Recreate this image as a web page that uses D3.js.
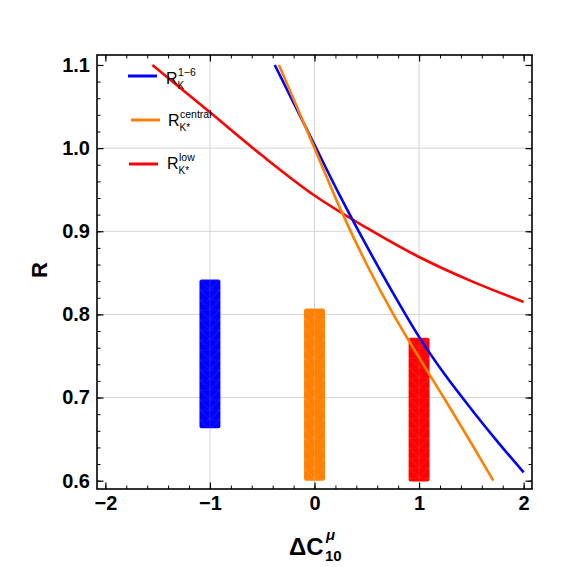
<!DOCTYPE html>
<html lang="en">
<head>
<meta charset="UTF-8">
<title>R vs Delta C10</title>
<script src="https://d3js.org/d3.v7.min.js"></script>
<style>
  body { margin: 0; background: #fff; }
  svg { font-family: "Liberation Sans", Arial, sans-serif; }
  .tick-lbl text { font-weight: bold; font-size: 20px; fill: #000; }
  .grid line { stroke: #d4d4d4; stroke-width: 1; }
</style>
</head>
<body>
<svg id="chart" width="563" height="567"></svg>
<script>
// curves
const blueX   = [-0.38, 0, 0.25, 0.5, 0.75, 1.0, 1.25, 1.5, 1.75, 2.0];
const blueY   = [1.10, 1.004, 0.941, 0.882, 0.826, 0.773, 0.727, 0.686, 0.647, 0.610];
const orangeX = [-0.34, 0, 0.25, 0.5, 0.75, 1.0, 1.25, 1.5, 1.71];
const orangeY = [1.10, 1.0, 0.926, 0.860, 0.801, 0.748, 0.697, 0.645, 0.600];
const redX    = [-1.55, -1.0, -0.5, 0, 0.5, 1.0, 1.5, 2.0];
const redY    = [1.10, 1.043, 0.991, 0.943, 0.904, 0.869, 0.840, 0.815];

// vertical bands: centre, low, high
const bandX    = [-1, 0, 1];
const bandLow  = [0.663, 0.600, 0.599];
const bandHigh = [0.842, 0.807, 0.772];
const bandColors = ["#0000ff", "#ff8000", "#ff0000"];

const xTicks = [-2, -1, 0, 1, 2];
const yTicks = [0.6, 0.7, 0.8, 0.9, 1.0, 1.1];

const svg = d3.select("#chart");
const x = d3.scaleLinear().domain([-2.08, 2.08]).range([97, 532]);
const y = d3.scaleLinear().domain([0.59, 1.112]).range([489, 55]);

// grid
const grid = svg.append("g").attr("class", "grid");
grid.selectAll(".gx").data(xTicks.filter(d => d > -2 && d < 2)).enter().append("line")
  .attr("x1", d => x(d)).attr("x2", d => x(d)).attr("y1", y.range()[0]).attr("y2", y.range()[1]);
grid.selectAll(".gy").data(yTicks.filter(d => d > 0.6 && d < 1.1)).enter().append("line")
  .attr("y1", d => y(d)).attr("y2", d => y(d)).attr("x1", x.range()[0]).attr("x2", x.range()[1]);

// bands with a faint mesh
const defs = svg.append("defs");
bandX.forEach((c, i) => {
  const x0 = x(c - 0.1), w = x(c + 0.1) - x(c - 0.1), h = 10;
  const p = defs.append("pattern").attr("id", "mesh" + i)
    .attr("patternUnits", "userSpaceOnUse")
    .attr("x", x0).attr("y", y(bandHigh[i])).attr("width", w).attr("height", h);
  p.append("rect").attr("width", w).attr("height", h).attr("fill", bandColors[i]);
  const m = p.append("g").attr("stroke", "#fff").attr("stroke-opacity", 0.15).attr("stroke-width", 0.8);
  m.append("line").attr("x1", 0).attr("x2", w).attr("y1", 0).attr("y2", 0);
  m.append("line").attr("x1", w / 2).attr("x2", w / 2).attr("y1", 0).attr("y2", h);
  m.append("line").attr("x1", 0).attr("y1", 0).attr("x2", w / 2).attr("y2", h);
  m.append("line").attr("x1", w).attr("y1", 0).attr("x2", w / 2).attr("y2", h);
  svg.append("rect")
    .attr("x", x0).attr("width", w)
    .attr("y", y(bandHigh[i])).attr("height", y(bandLow[i]) - y(bandHigh[i]))
    .attr("rx", 2).attr("fill", `url(#mesh${i})`);
});

// curves
const line = d3.line().curve(d3.curveCatmullRom).x(d => x(d[0])).y(d => y(d[1]));
const series = [
  { xs: redX, ys: redY, color: "#ff0000" },
  { xs: blueX, ys: blueY, color: "#0000ff" },
  { xs: orangeX, ys: orangeY, color: "#ff8000" }
];
series.forEach(s => {
  svg.append("path").datum(s.xs.map((v, i) => [v, s.ys[i]]))
    .attr("d", line).attr("fill", "none")
    .attr("stroke", s.color).attr("stroke-width", 2.6);
});

// frame + ticks (inward on all sides)
function addAxis(axisFn, scale, major, transform, labels) {
  const step = (major[1] - major[0]) / 5;
  const lo = Math.ceil(scale.domain()[0] / step - 1e-9);
  const minorVals = [];
  for (let k = lo; k * step <= scale.domain()[1] + 1e-9; k++) minorVals.push(+(k * step).toFixed(3));
  svg.append("g").attr("transform", transform)
    .call(axisFn(scale).tickValues(minorVals).tickSize(-3.5).tickFormat(""))
    .call(g => g.select(".domain").remove())
    .selectAll("line").attr("stroke", "#000").attr("stroke-width", 1);
  const g = svg.append("g").attr("transform", transform).attr("class", "tick-lbl")
    .call(axisFn(scale).tickValues(major).tickSizeInner(-6.5).tickSizeOuter(0).tickPadding(7)
      .tickFormat(labels ? labels : ""));
  g.select(".domain").remove();
  g.selectAll("line").attr("stroke", "#000").attr("stroke-width", 1.2);
  g.selectAll("text").attr("font-family", "'Liberation Sans', Arial, sans-serif");
  return g;
}
addAxis(d3.axisBottom, x, xTicks, `translate(0,${y.range()[0]})`, d => d < 0 ? "\u2212" + Math.abs(d) : d);
addAxis(d3.axisTop, x, xTicks, `translate(0,${y.range()[1]})`, null);
addAxis(d3.axisLeft, y, yTicks, `translate(${x.range()[0]},0)`, d3.format(".1f"));
addAxis(d3.axisRight, y, yTicks, `translate(${x.range()[1]},0)`, null);

svg.append("rect")
  .attr("x", x.range()[0]).attr("y", y.range()[1])
  .attr("width", x.range()[1] - x.range()[0]).attr("height", y.range()[0] - y.range()[1])
  .attr("fill", "none").attr("stroke", "#000").attr("stroke-width", 1.6);

// axis titles
svg.append("text").attr("transform", "translate(47,270) rotate(-90)")
  .attr("text-anchor", "middle").attr("font-weight", "bold").attr("font-size", 22).text("R");
const xt = svg.append("g");
xt.append("text").attr("x", 289).attr("y", 555).attr("font-weight", "bold").attr("font-size", 24).text("\u0394C");
xt.append("text").attr("x", 326).attr("y", 540).attr("font-weight", "bold").attr("font-style", "italic").attr("font-size", 15).text("\u03bc");
xt.append("text").attr("x", 325).attr("y", 561).attr("font-weight", "bold").attr("font-size", 15).text("10");

// legend
const legend = [
  { color: "#0000ff", sub: "K", sup: "1\u22126", ly: 76, lx: 128, tx: 166, by: 84 },
  { color: "#ff8000", sub: "K*", sup: "central", ly: 120, lx: 131, tx: 168, by: 126 },
  { color: "#ff0000", sub: "K*", sup: "low", ly: 164, lx: 129, tx: 167, by: 169 }
];
legend.forEach(l => {
  svg.append("line").attr("x1", l.lx).attr("x2", l.lx + 29).attr("y1", l.ly).attr("y2", l.ly)
    .attr("stroke", l.color).attr("stroke-width", 3);
  svg.append("text").attr("x", l.tx).attr("y", l.by).attr("font-size", 16).text("R");
  svg.append("text").attr("x", l.tx + 11.5).attr("y", l.by + 5).attr("font-size", 10).text(l.sub);
  svg.append("text").attr("x", l.tx + 12).attr("y", l.by - 8).attr("font-size", 10.5).text(l.sup);
});
</script>
</body>
</html>
